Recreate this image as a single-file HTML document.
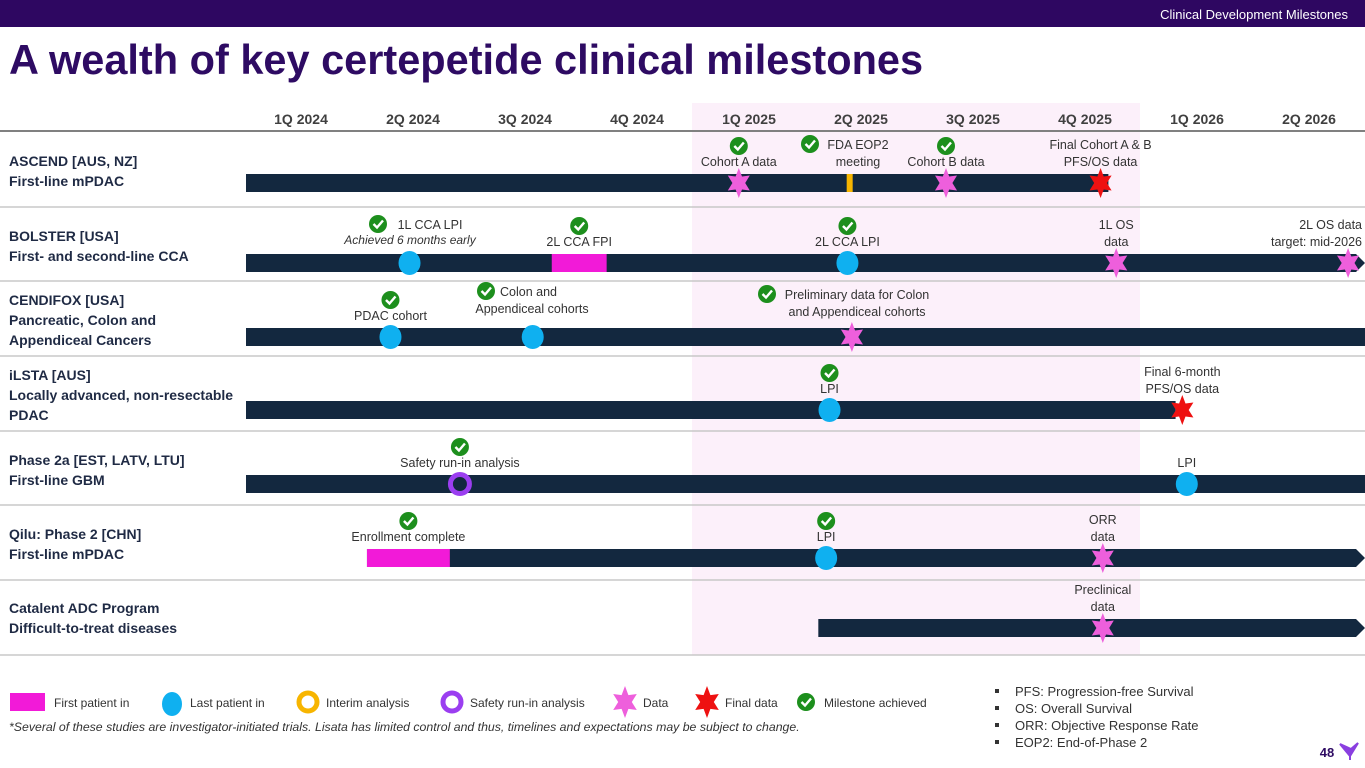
<!DOCTYPE html>
<html><head><meta charset="utf-8">
<style>
body{margin:0;width:1365px;height:768px;overflow:hidden;background:#fff;font-family:"Liberation Sans",sans-serif;}
svg{position:absolute;left:0;top:0}
</style></head>
<body>
<svg id="c" width="1365" height="768"></svg>
<script>
const quarters=["1Q 2024","2Q 2024","3Q 2024","4Q 2024","1Q 2025","2Q 2025","3Q 2025","4Q 2025","1Q 2026","2Q 2026"];
const rowNames=[["ASCEND [AUS, NZ]","First-line mPDAC"],["BOLSTER [USA]","First- and second-line CCA"],["CENDIFOX [USA]","Pancreatic, Colon and","Appendiceal Cancers"],["iLSTA [AUS]","Locally advanced, non-resectable","PDAC"],["Phase 2a [EST, LATV, LTU]","First-line GBM"],["Qilu: Phase 2 [CHN]","First-line mPDAC"],["Catalent ADC Program","Difficult-to-treat diseases"]];
const barStart=[0,0,0,0,0,1.08,5.11];
const barEnd=[7.7,10.3,10.3,8.3,10.3,10.3,10.3];
const barArrow=[false,true,false,false,false,true,true];
const evRow=[0,0,0,0, 1,1,1,1,1, 2,2,2, 3,3, 4,4, 5,5,5, 6];
const evType=["data","tick","data","final", "lpi","fpi","lpi","data","data", "lpi","lpi","data", "lpi","final", "safety","lpi", "fpi","lpi","data", "data"];
const evQ=[4.4,5.39,6.25,7.63, 1.46,2.73,5.37,7.77,9.84, 1.29,2.56,5.41, 5.21,8.36, 1.91,8.4, 1.08,5.18,7.65, 7.65];
const evQEnd=[0,0,0,0, 0,3.22,0,0,0, 0,0,0, 0,0, 0,0, 1.82,0,0, 0];
const evDone=[1,1,1,0, 1,1,1,0,0, 1,1,1, 1,0, 1,0, 1,1,0, 0];
const evLabel=[["Cohort A data"],["FDA EOP2","meeting"],["Cohort B data"],["Final Cohort A & B","PFS/OS data"],
 ["1L CCA LPI"],["2L CCA FPI"],["2L CCA LPI"],["1L OS","data"],["2L OS data","target: mid-2026"],
 ["PDAC cohort"],["Colon and","Appendiceal cohorts"],["Preliminary data for Colon","and Appendiceal cohorts"],
 ["LPI"],["Final 6-month","PFS/OS data"],["Safety run-in analysis"],["LPI"],["Enrollment complete"],["LPI"],["ORR","data"],["Preclinical","data"]];

const X0=246,QW=112;
const x=q=>X0+q*QW;
const rowSep=[131,207,281,356,431,505,580,655];
const barY=[183,263,337,410,484,558,628];
const NS="http://www.w3.org/2000/svg";
const svg=document.getElementById('c');
function mk(t,a,p){const e=document.createElementNS(NS,t);for(const k in a)e.setAttribute(k,a[k]);(p||svg).appendChild(e);return e;}
function txt(s,xx,yy,size,opt){opt=opt||{};const t=mk('text',{x:xx,y:yy,'font-size':size,fill:opt.fill||'#333','text-anchor':opt.anchor||'middle','font-weight':opt.weight||'normal','font-style':opt.style||'normal','font-family':'"Liberation Sans",sans-serif'});t.textContent=s;return t;}
function star(cx,cy,r,fill){let p=[];for(let i=0;i<12;i++){const a=Math.PI/6*i-Math.PI/2;const rr=i%2?r*0.5:r;p.push((cx+rr*Math.cos(a)*0.85).toFixed(1)+','+(cy+rr*Math.sin(a)).toFixed(1));}return mk('polygon',{points:p.join(' '),fill:fill});}
function check(cx,cy){const g=mk('g',{});mk('circle',{cx:cx,cy:cy,r:9,fill:'#1d8f1d'},g);mk('path',{d:`M${cx-4.5} ${cy} L${cx-1} ${cy+3.5} L${cx+5} ${cy-3.5}`,stroke:'#fff','stroke-width':2.4,fill:'none'},g);return g;}

let h=mk('rect',{x:0,y:0,width:1365,height:27,fill:'#2e0761'});
let ht=txt('Clinical Development Milestones',1348,19,13,{fill:'#fff',anchor:'end'});
let tt=txt('A wealth of key certepetide clinical milestones',9,74,41.5,{fill:'#2e0b63',anchor:'start',weight:'bold'});
let band=mk('rect',{x:x(4)-2,y:103,width:448,height:552,fill:'#fcf0fa'});
quarters.forEach((q,i)=>{const t=txt(q,x(i)+55,124,14,{fill:'#404040',weight:'bold'});});
rowSep.forEach((y,i)=>{const l=mk('line',{x1:0,x2:1365,y1:y,y2:y,stroke:i==0?'#808080':'#c8c8c8','stroke-width':i==0?2:1.5});});
const rowLabelY=[166,241,305,380,465,539,613];
rowNames.forEach((r,i)=>{r.forEach((s,j)=>{const t=txt(s,9,rowLabelY[i]+j*20,14,{fill:'#1f2a44',anchor:'start',weight:'bold'});});});
barStart.forEach((s,i)=>{const x1=x(s),x2=Math.min(x(barEnd[i]),1365),y=barY[i];let el;
 if(barArrow[i]){el=mk('polygon',{points:`${x1},${y-9} ${x2-9},${y-9} ${x2},${y} ${x2-9},${y+9} ${x1},${y+9}`,fill:'#13283f'});}
 else el=mk('rect',{x:x1,y:y-9,width:x2-x1,height:18,fill:'#13283f'});
 });
// inline checks: label index -> [check dx, text anchor override]
const inlineCheck={1:-48,4:-52,10:-46,11:-90};
evQ.forEach((q,i)=>{const r=evRow[i],y=barY[r],cx=x(q),t=evType[i];let el;
 if(t=='data')el=star(cx,y,15,'#ee5fdc');
 else if(t=='final')el=star(cx,y,15,'#ee1111');
 else if(t=='lpi')el=mk('ellipse',{cx:cx,cy:y,rx:11,ry:12,fill:'#0fb0f0'});
 else if(t=='fpi')el=mk('rect',{x:cx,y:y-9,width:x(evQEnd[i])-cx,height:18,fill:'#f21ad8'});
 else if(t=='tick')el=mk('rect',{x:cx-3,y:y-9,width:6,height:18,fill:'#f7b500'});
 else if(t=='safety')el=mk('circle',{cx:cx,cy:y,r:9.5,fill:'#13283f',stroke:'#9b3ef0','stroke-width':5});
 
 let lx=t=='fpi'?(cx+x(evQEnd[i]))/2:cx;const L=evLabel[i];const n=L.length;
 if(i==1)lx=858; if(i==4)lx=430; if(i==10)lx=532; if(i==11)lx=857;
 let ly=y-17-(n-1)*17;
 if(i==4)ly=229;
 if(i==11||i==10)ly=y-38+ (i==10?-3:0);
 L.forEach((s,j)=>{let xx=lx,anc='middle';
  if(i==8){xx=1362;anc='end';}
  if(i==10&&j==0){xx=500;anc='start';}
  const tx=txt(s,xx,ly+j*17,12.5,{anchor:anc});});
 if(evDone[i]){
  if(i in inlineCheck){let cxx=lx+inlineCheck[i];if(i==10)cxx=486;check(cxx,ly-5);}
  else check(lx,ly-20);
 }
});
let ach=txt('Achieved 6 months early',410,244,12,{style:'italic'});
const lg=[['fpi',10,'First patient in'],['lpi',172,'Last patient in'],['interim',308,'Interim analysis'],['safety',452,'Safety run-in analysis'],['data',625,'Data'],['final',707,'Final data'],['check',806,'Milestone achieved']];
lg.forEach(([k,lx,s])=>{let el,y=702;
 if(k=='fpi')el=mk('rect',{x:lx,y:y-9,width:35,height:18,fill:'#f21ad8'});
 else if(k=='lpi')el=mk('ellipse',{cx:lx,cy:y+2,rx:10,ry:12,fill:'#0fb0f0'});
 else if(k=='interim')el=mk('circle',{cx:lx,cy:y,r:9,fill:'none',stroke:'#f7b500','stroke-width':5});
 else if(k=='safety')el=mk('circle',{cx:lx,cy:y,r:9,fill:'none',stroke:'#9b3ef0','stroke-width':5});
 else if(k=='data')el=star(lx,y,16,'#ee5fdc');
 else if(k=='final')el=star(lx,y,16,'#ee1111');
 else el=check(lx,y);
 
 const tx=txt(s,(k=='fpi'?lx+44:lx+18),y+5,12,{anchor:'start'});});
let fn=txt('*Several of these studies are investigator-initiated trials. Lisata has limited control and thus, timelines and expectations may be subject to change.',9,731,12.3,{anchor:'start',style:'italic'});
['PFS: Progression-free Survival','OS: Overall Survival','ORR: Objective Response Rate','EOP2: End-of-Phase 2'].forEach((s,i)=>{mk('rect',{x:995,y:689+i*17,width:4,height:4,fill:'#333'});const t=txt(s,1015,696+i*17,13,{anchor:'start'});});
let pn=txt('48',1327,757,13,{fill:'#2e0b63',weight:'bold'});
let lo=mk('path',{d:'M1340 744 L1350 756 L1358 743 L1351 749 Z M1350 756 L1350 760',fill:'#8a3fe0',stroke:'#8a3fe0','stroke-width':2});
</script>
</body></html>
